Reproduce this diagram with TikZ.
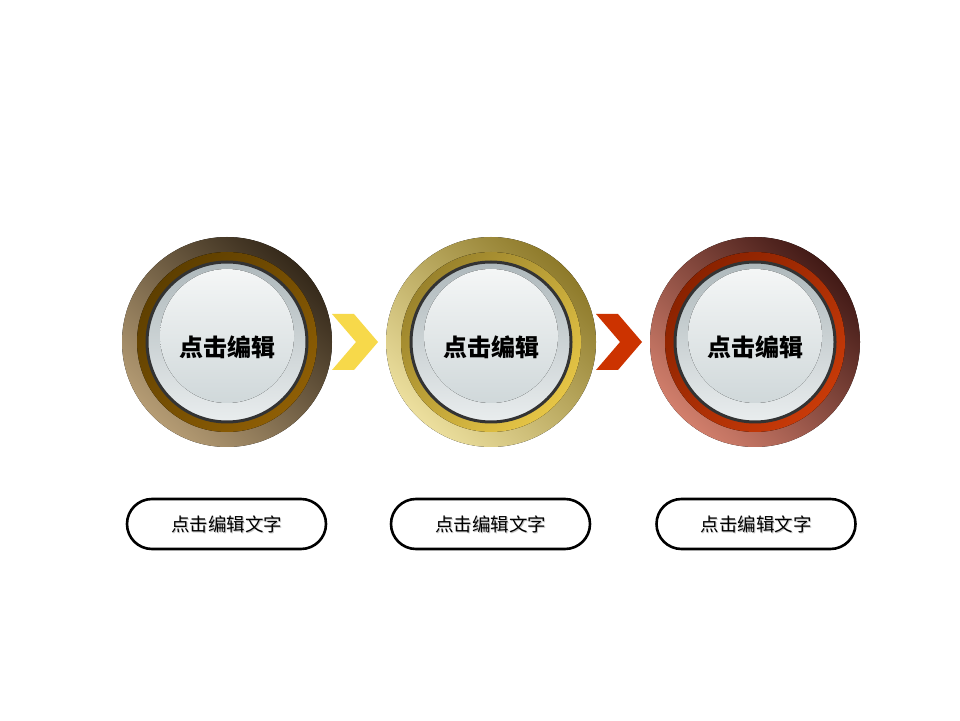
\documentclass[tikz,border=0pt]{standalone}
\usepackage{fontspec}
\newfontfamily\cjk{Noto Sans CJK SC}
\usetikzlibrary{positioning}

\definecolor{BrownLight}{HTML}{B59C74}
\definecolor{BrownDark}{HTML}{35291A}
\definecolor{BrownRing}{HTML}{8E5E04}
\definecolor{BrownRingDark}{HTML}{5E3F00}
\definecolor{GoldLight}{HTML}{ECDF9E}
\definecolor{GoldDark}{HTML}{8E7A2A}
\definecolor{GoldRing}{HTML}{E6C545}
\definecolor{GoldRingDark}{HTML}{9A832C}
\definecolor{RedLight}{HTML}{D27F6C}
\definecolor{RedDark}{HTML}{421A16}
\definecolor{RedRing}{HTML}{C83A08}
\definecolor{RedRingDark}{HTML}{8A2200}
\definecolor{GlassRim}{HTML}{AEB8BB}
\definecolor{GlassLow}{HTML}{E9EDEE}
\definecolor{GlassTop}{HTML}{F4F6F6}
\definecolor{GlassMid}{HTML}{D0D8DA}
\definecolor{ChevYellow}{HTML}{F7D94A}
\definecolor{ChevRed}{HTML}{CC3300}

\begin{document}
\begin{tikzpicture}[x=1pt, y=1pt, every node/.style={inner sep=0pt}]

\useasboundingbox[fill=white] (0,0) rectangle (960,720);

\tikzset{
  glass/.style={circle, minimum size=160, draw=black!80, line width=3,
    top color=GlassRim, bottom color=GlassLow},
  title/.style={font=\cjk\bfseries\fontsize{24}{24}\selectfont},
  pill/.style={draw=black, line width=2.6, rounded corners=25,
    minimum width=199, minimum height=50},
  caption/.style={font=\cjk\fontsize{18.5}{18.5}\selectfont},
}

% Discs
\foreach \i/\cx/\lt/\dk/\rg/\rd in {1/227/BrownLight/BrownDark/BrownRing/BrownRingDark,
    2/491/GoldLight/GoldDark/GoldRing/GoldRingDark,
    3/755/RedLight/RedDark/RedRing/RedRingDark}
{
     \fill[top color=\dk, bottom color=\lt, shading angle=-45] (\cx,378) circle (105);
     \fill[top color=\rd, bottom color=\rg, shading angle=45] (\cx,378) circle (90);
     \node[glass] (disc\i) at (\cx,378) {};
     \fill[top color=GlassTop, bottom color=GlassMid] (\cx,384) circle (67);
     \node[title] (title\i) at (\cx,373) {点击编辑};
}

% Chevrons
\fill[ChevYellow] (332,406) -- (354,406) -- (378,378) -- (354,350) -- (332,350) -- (356,378) -- cycle;
\fill[ChevRed] (596,406) -- (618,406) -- (642,378) -- (618,350) -- (596,350) -- (620,378) -- cycle;

% Captions
\foreach \i/\cx in {1/226.5, 2/490.5, 3/756}
{
     \node[pill] (box\i) at (\cx,196) {};
     \node[caption, text=black!22] (shade\i) at (\cx+1.2,194.8) {点击编辑文字};
     \node[caption] (text\i) at (\cx,196) {点击编辑文字};
}

\end{tikzpicture}
\end{document}
